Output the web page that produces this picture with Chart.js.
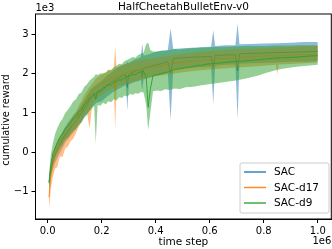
<!DOCTYPE html>
<html>
<head>
<meta charset="utf-8">
<script src="https://cdn.jsdelivr.net/npm/chart.js@4/dist/chart.umd.min.js"></script>
<style>
  body { margin: 0; background: #fff; }
</style>
</head>
<body>
<canvas id="chart" width="332" height="249"></canvas>
<script>
// time steps in units of 1e6, rewards in units of 1e3
const sacT    = [0.005, 0.015, 0.025, 0.035, 0.05, 0.065, 0.08, 0.1, 0.12, 0.14, 0.16, 0.18, 0.2, 0.22, 0.24, 0.26, 0.28, 0.29, 0.295, 0.3, 0.32, 0.34, 0.345, 0.35, 0.355, 0.38, 0.4, 0.42, 0.445, 0.455, 0.465, 0.5, 0.55, 0.6, 0.605, 0.613, 0.62, 0.66, 0.695, 0.703, 0.71, 0.75, 0.8, 0.85, 0.9, 0.95, 1.0];
const sacMean = [-0.78, -0.35, -0.1, 0.05, 0.28, 0.45, 0.6, 0.75, 0.93, 1.15, 1.38, 1.5, 1.55, 1.7, 1.8, 1.87, 1.95, 1.97, 1.65, 1.98, 2.05, 2.1, 2.12, 1.9, 2.13, 2.18, 2.22, 2.25, 2.3, 2.0, 2.38, 2.4, 2.42, 2.43, 2.44, 2.13, 2.46, 2.47, 2.48, 2.07, 2.5, 2.51, 2.52, 2.53, 2.54, 2.55, 2.56];
const sacLo   = [-0.9, -0.55, -0.3, -0.15, 0.05, 0.25, 0.38, 0.55, 0.72, 0.92, 1.12, 1.25, 1.3, 1.42, 1.52, 1.6, 1.68, 1.7, 1.06, 1.72, 1.78, 1.82, 1.84, 1.57, 1.85, 1.9, 1.95, 1.97, 2.02, 0.82, 2.1, 2.12, 2.15, 2.17, 2.18, 1.22, 2.2, 2.22, 2.23, 0.84, 2.25, 2.26, 2.27, 2.28, 2.3, 2.3, 2.32];
const sacHi   = [-0.65, -0.15, 0.1, 0.25, 0.45, 0.65, 0.8, 0.98, 1.15, 1.38, 1.6, 1.72, 1.82, 1.95, 2.05, 2.15, 2.22, 2.25, 2.3, 2.27, 2.35, 2.4, 2.42, 2.76, 2.45, 2.5, 2.55, 2.58, 2.6, 3.14, 2.62, 2.64, 2.66, 2.68, 2.68, 3.1, 2.7, 2.72, 2.72, 3.27, 2.74, 2.75, 2.76, 2.77, 2.78, 2.8, 2.8];

const d17T    = [0.005, 0.012, 0.02, 0.028, 0.036, 0.045, 0.055, 0.065, 0.075, 0.085, 0.095, 0.105, 0.115, 0.125, 0.135, 0.145, 0.155, 0.165, 0.18, 0.2, 0.22, 0.24, 0.245, 0.25, 0.255, 0.28, 0.32, 0.36, 0.4, 0.45, 0.5, 0.55, 0.6, 0.65, 0.7, 0.75, 0.8, 0.845, 0.85, 0.855, 0.9, 0.95, 1.0];
const d17Mean = [-1.14, -0.55, -0.25, -0.05, 0.08, 0.2, 0.3, 0.4, 0.5, 0.58, 0.72, 0.8, 0.95, 1.08, 1.22, 1.35, 1.45, 1.55, 1.65, 1.75, 1.82, 1.9, 1.92, 1.57, 1.94, 2.0, 2.08, 2.13, 2.18, 2.24, 2.29, 2.33, 2.36, 2.38, 2.4, 2.42, 2.44, 2.45, 2.35, 2.46, 2.47, 2.48, 2.48];
const d17Lo   = [-1.45, -0.9, -0.6, -0.4, -0.38, -0.1, -0.12, 0.1, 0.15, 0.28, 0.35, 0.5, 0.65, 0.78, 0.92, 1.05, 0.6, 1.22, 1.35, 1.45, 1.55, 1.62, 1.64, 0.56, 1.66, 1.72, 1.8, 1.88, 1.93, 1.98, 2.03, 2.07, 2.1, 2.13, 2.15, 2.17, 2.2, 2.22, 1.98, 2.23, 2.24, 2.26, 2.28];
const d17Hi   = [-0.9, -0.3, 0.0, 0.15, 0.3, 0.42, 0.52, 0.62, 0.72, 0.8, 0.95, 1.02, 1.18, 1.3, 1.45, 1.55, 1.65, 1.75, 1.88, 1.98, 2.05, 2.12, 2.14, 2.7, 2.16, 2.22, 2.3, 2.36, 2.4, 2.45, 2.5, 2.54, 2.57, 2.6, 2.62, 2.63, 2.65, 2.66, 2.66, 2.67, 2.68, 2.7, 2.7];

const d9T     = [0.005, 0.012, 0.02, 0.028, 0.036, 0.045, 0.055, 0.065, 0.075, 0.085, 0.095, 0.105, 0.115, 0.125, 0.135, 0.145, 0.155, 0.165, 0.172, 0.178, 0.185, 0.195, 0.205, 0.215, 0.225, 0.235, 0.245, 0.255, 0.265, 0.275, 0.285, 0.295, 0.305, 0.315, 0.325, 0.335, 0.345, 0.355, 0.365, 0.372, 0.38, 0.39, 0.405, 0.42, 0.435, 0.45, 0.47, 0.49, 0.51, 0.53, 0.55, 0.57, 0.59, 0.61, 0.63, 0.65, 0.67, 0.69, 0.71, 0.73, 0.75, 0.78, 0.81, 0.84, 0.87, 0.9, 0.93, 0.96, 1.0];
const d9Mean  = [-0.75, -0.3, -0.02, 0.12, 0.25, 0.38, 0.46, 0.6, 0.66, 0.75, 0.86, 0.9, 1.02, 1.08, 1.2, 1.28, 1.38, 1.45, 1.5, 1.35, 1.55, 1.56, 1.64, 1.66, 1.72, 1.7, 1.78, 1.8, 1.84, 1.83, 1.9, 1.92, 1.94, 1.98, 1.97, 2.02, 2.04, 2.05, 1.9, 1.14, 1.6, 1.95, 1.97, 2.0, 2.02, 2.05, 2.1, 2.12, 2.15, 2.17, 2.2, 2.21, 2.24, 2.25, 2.26, 2.28, 2.29, 2.3, 2.31, 2.32, 2.33, 2.35, 2.37, 2.39, 2.4, 2.41, 2.42, 2.44, 2.45];
const d9Lo    = [-0.95, -0.55, -0.3, -0.12, 0.0, 0.12, 0.2, 0.32, 0.38, 0.48, 0.55, 0.6, 0.72, 0.76, 0.9, 0.95, 1.05, 1.12, 1.18, 0.23, 1.2, 1.18, 1.26, 1.22, 1.3, 1.27, 1.35, 1.32, 1.4, 1.38, 1.44, 1.42, 1.48, 1.46, 1.5, 1.49, 1.53, 1.52, 1.2, 0.56, 1.0, 1.55, 1.57, 1.56, 1.6, 1.58, 1.62, 1.61, 1.65, 1.66, 1.68, 1.7, 1.72, 1.74, 1.76, 1.78, 1.8, 1.82, 1.84, 1.87, 1.9, 1.95, 2.02, 2.08, 2.12, 2.15, 2.18, 2.2, 2.22];
const d9Hi    = [-0.55, -0.05, 0.25, 0.48, 0.62, 0.75, 0.85, 1.0, 1.08, 1.18, 1.3, 1.35, 1.48, 1.52, 1.66, 1.72, 1.82, 1.88, 1.92, 1.98, 1.96, 2.0, 2.0, 2.02, 2.1, 2.08, 2.16, 2.2, 2.25, 2.24, 2.32, 2.35, 2.38, 2.42, 2.4, 2.47, 2.5, 2.52, 2.75, 2.78, 2.6, 2.56, 2.55, 2.58, 2.57, 2.6, 2.62, 2.61, 2.63, 2.64, 2.65, 2.66, 2.66, 2.67, 2.67, 2.68, 2.68, 2.69, 2.69, 2.7, 2.7, 2.7, 2.7, 2.71, 2.71, 2.71, 2.72, 2.72, 2.72];

const seriesNames = ['SAC', 'SAC-d17', 'SAC-d9'];
const xTicks = [0, 0.2, 0.4, 0.6, 0.8, 1.0];
const yTicks = [-1, 0, 1, 2, 3];

const colors = ['31,119,180', '255,127,14', '44,160,44'];
const FONT = '"DejaVu Sans", sans-serif';

const pts = (t, v) => t.map((x, i) => ({ x, y: v[i] }));

const makeSeries = (name, t, mean, lo, hi, rgb, order) => [
    { label: '', data: pts(t, hi), borderWidth: 0, pointRadius: 0, fill: '+1', backgroundColor: `rgba(${rgb},0.5)`, order: order + 1 },
    { label: '', data: pts(t, lo), borderWidth: 0, pointRadius: 0, fill: false, order: order + 1 },
    { label: name, data: pts(t, mean), borderWidth: 1, borderColor: `rgba(${rgb},0.9)`, pointRadius: 0, fill: false, order },
];

const datasets = [
    ...makeSeries(seriesNames[0], sacT, sacMean, sacLo, sacHi, colors[0], 7),
    ...makeSeries(seriesNames[1], d17T, d17Mean, d17Lo, d17Hi, colors[1], 4),
    ...makeSeries(seriesNames[2], d9T, d9Mean, d9Lo, d9Hi, colors[2], 1),
];

// titles, offset labels, frame and legend (matplotlib look)
const decor = {
    id: 'decor',
    afterDraw(chart) {
        const { ctx, chartArea: a } = chart;
        ctx.save();
        ctx.strokeStyle = '#000';
        ctx.lineWidth = 1;
        ctx.strokeRect(a.left, a.top, a.right - a.left, a.bottom - a.top);

        ctx.fillStyle = '#000';
        ctx.textBaseline = 'middle';
        ctx.font = `10.5px ${FONT}`;
        ctx.textAlign = 'center';
        ctx.fillText('HalfCheetahBulletEnv-v0', (a.left + a.right) / 2, 7);
        ctx.fillText('time step', (a.left + a.right) / 2, 242);
        ctx.font = `10px ${FONT}`;
        ctx.textAlign = 'left';
        ctx.fillText('1e3', a.left, 8);
        ctx.textAlign = 'right';
        ctx.fillText('1e6', a.right, 241);

        ctx.save();
        ctx.translate(6, 120);
        ctx.rotate(-Math.PI / 2);
        ctx.textAlign = 'center';
        ctx.font = `9.8px ${FONT}`;
        ctx.fillText('cumulative reward', 0, 0);
        ctx.restore();

        // legend box
        const bx = 240, by = 163, bw = 89, bh = 50;
        ctx.beginPath();
        ctx.roundRect(bx, by, bw, bh, 2);
        ctx.fillStyle = 'rgba(255,255,255,0.8)';
        ctx.fill();
        ctx.strokeStyle = '#ccc';
        ctx.stroke();
        ctx.font = `10.5px ${FONT}`;
        ctx.textAlign = 'left';
        seriesNames.forEach((name, i) => {
            const y = 172 + i * 15.5;
            ctx.strokeStyle = `rgba(${colors[i]},0.9)`;
            ctx.lineWidth = 1.5;
            ctx.beginPath();
            ctx.moveTo(244, y);
            ctx.lineTo(266, y);
            ctx.stroke();
            ctx.fillStyle = '#000';
            ctx.fillText(name, 274, y + 0.5);
        });
        ctx.restore();
    },
};

new Chart(document.getElementById('chart'), {
    type: 'line',
    data: { datasets },
    options: {
        responsive: false,
        animation: false,
        layout: { padding: { top: 14, right: 0.7, left: 0, bottom: 0 } },
        plugins: {
            legend: { display: false },
            tooltip: { enabled: false },
            title: { display: false },
        },
        elements: { line: { tension: 0 } },
        scales: {
            x: {
                type: 'linear',
                min: -0.045,
                max: 1.05,
                afterBuildTicks: (s) => { s.ticks = xTicks.map((value) => ({ value })); },
                afterFit: (s) => { s.height = 30; },
                grid: { drawOnChartArea: false, tickLength: 4, color: '#000' },
                border: { color: '#000' },
                ticks: { color: '#000', font: { family: FONT, size: 10 }, padding: 2, maxRotation: 0, callback: (v) => v.toFixed(1) },
            },
            y: {
                min: -1.69,
                max: 3.51,
                afterBuildTicks: (s) => { s.ticks = yTicks.map((value) => ({ value })); },
                afterFit: (s) => { s.width = 35.5; },
                grid: { drawOnChartArea: false, tickLength: 4, color: '#000' },
                border: { color: '#000' },
                ticks: { color: '#000', font: { family: FONT, size: 10 }, padding: 3, callback: (v) => (v < 0 ? '\u2212' + Math.abs(v) : String(v)) },
            },
        },
    },
    plugins: [decor],
});
</script>
</body>
</html>
